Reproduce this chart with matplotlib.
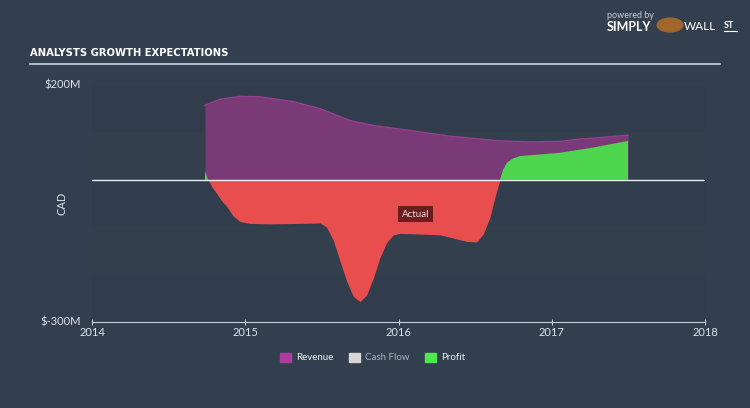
import matplotlib
matplotlib.use("Agg")
import matplotlib.pyplot as plt
import numpy as np

# ---- data ----
rev_x = [2014.737, 2014.835, 2014.966, 2015.097, 2015.313, 2015.488, 2015.684, 2015.847, 2016.010,
         2016.336, 2016.662, 2016.858, 2017.054, 2017.184, 2017.315, 2017.498]
rev_y = [157, 170, 176, 175, 165, 150, 125, 114, 107, 92, 82, 80, 81, 86, 89, 94]

prof_x = [2014.737, 2014.757, 2014.783, 2014.816, 2014.848, 2014.881, 2014.920, 2014.966,
          2015.031, 2015.160, 2015.357, 2015.488, 2015.531, 2015.575, 2015.618, 2015.662,
          2015.705, 2015.749, 2015.792, 2015.836, 2015.879, 2015.923, 2015.966, 2016.010,
          2016.271, 2016.358, 2016.445, 2016.510, 2016.553, 2016.597, 2016.630, 2016.662,
          2016.682, 2016.708, 2016.747, 2016.793, 2017.054, 2017.269, 2017.498]
prof_y = [18, 0, -15, -30, -45, -57, -76, -88,
          -92, -93, -92, -91, -100, -128, -171, -214,
          -246, -257, -243, -207, -164, -132, -116, -113,
          -116, -123, -130, -131, -114, -79, -36, 0,
          21, 36, 45, 50, 57, 68, 82]

x_ticks = [2014, 2015, 2016, 2017, 2018]
y_tick_labels = {200: "$200M", -300: "$-300M"}
legend_names = ["Revenue", "Cash Flow", "Profit"]

BG = "#333f4e"
fig = plt.figure(figsize=(7.5, 4.08), dpi=100, facecolor=BG)
ax = fig.add_axes([92/750, 1-322/408, (705-92)/750, (322-85)/408])
ax.set_facecolor(BG)
ax.set_xlim(2014, 2018)
ax.set_ylim(-300, 200)

# subtle banding
band_cols = ["#313d4c", "#343f4e"]
edges = [200, 100, 0, -100, -200, -300]
for i in range(5):
    ax.axhspan(edges[i+1], edges[i], color=band_cols[i % 2], lw=0, zorder=0)

rx = np.array(rev_x); ry = np.array(rev_y)
px = np.array(prof_x); py = np.array(prof_y)
ax.fill_between(rx, 0, ry, color="#7a3a78", lw=0, zorder=2)
ax.plot(rx, ry, color="#96408f", lw=1.0, zorder=2)
ax.fill_between(px, 0, py, where=py >= 0, interpolate=True, color="#4fd64f", lw=0, zorder=3)
ax.fill_between(px, 0, py, where=py <= 0, interpolate=True, color="#e84e4e", lw=0, zorder=3)
ax.axhline(0, color="#e8eef2", lw=1.0, zorder=4)

ax.text(2016.11, -73, "Actual", color="#eadcdc", fontsize=7, ha="center", va="center",
        family="Lato", zorder=5,
        bbox=dict(boxstyle="square,pad=0.35", fc="#6a1e1e", ec="none"))

for s in ["top", "right", "left"]:
    ax.spines[s].set_visible(False)
ax.spines["bottom"].set_color("#c8d0d8")
ax.spines["bottom"].set_linewidth(0.8)
ax.set_xticks(x_ticks)
ax.set_xticklabels([str(t) for t in x_ticks], fontsize=8, family="Lato")
ax.tick_params(axis="x", colors="#c8d0d8", length=5, width=0.8, direction="inout", pad=1)
for lbl in ax.get_xticklabels():
    lbl.set_color("#dde3ea")
ax.set_yticks([])

for v, s in y_tick_labels.items():
    fig.text(81/750, 1 - (180 - v*0.474)/408, s, color="#dde3ea", fontsize=8,
             family="Lato", ha="right", va="center")
fig.text(62/750, 1-203/408, "CAD", color="#dde3ea", fontsize=8, family="Lato",
         rotation=90, ha="center", va="center")

# title
fig.text(30/750, 1-53/408, "ANALYSTS GROWTH EXPECTATIONS", color="#ffffff", fontsize=8,
         fontweight="bold", fontstretch="condensed", family="DejaVu Sans",
         ha="left", va="center")
fig.add_artist(plt.Line2D([30/750, 720/750], [1-64/408, 1-64/408], color="#c8d6e2", lw=1.2))

# logo
fig.text(607/750, 1-15/408, "powered by", color="#c8d0d8", fontsize=6.5, family="Lato",
         va="center")
fig.text(607/750, 1-27/408, "SIMPLY", color="#ffffff", fontsize=9, fontweight="bold",
         family="Lato", va="center")
fig.add_artist(plt.Circle((670/750, 1-25/408), 0.017, color="#a0662c",
                          transform=fig.transFigure))
fig.text(684/750, 1-27/408, "WALL", color="#ffffff", fontsize=8.5, family="Lato", va="center")
fig.text(724/750, 1-26/408, "ST", color="#ffffff", fontsize=6.5, fontweight="bold",
         family="Lato", va="center")
fig.add_artist(plt.Line2D([724/750, 737/750], [1-31/408, 1-31/408], color="#ffffff", lw=0.8))

# legend
leg_cols = ["#b03a9e", "#d6d6d6", "#4ce84c"]
leg_txt = ["#eef0f4", "#aab4c0", "#eef0f4"]
leg_x = [280, 349, 425]
for x0, c, tc, name in zip(leg_x, leg_cols, leg_txt, legend_names):
    fig.patches.append(plt.Rectangle((x0/750, 1-362/408), 11/750, 9/408, color=c,
                                     transform=fig.transFigure))
    fig.text((x0+16)/750, 1-357.5/408, name, color=tc, fontsize=7, family="Lato", va="center")

fig.savefig("out.png", dpi=100, facecolor=BG)
